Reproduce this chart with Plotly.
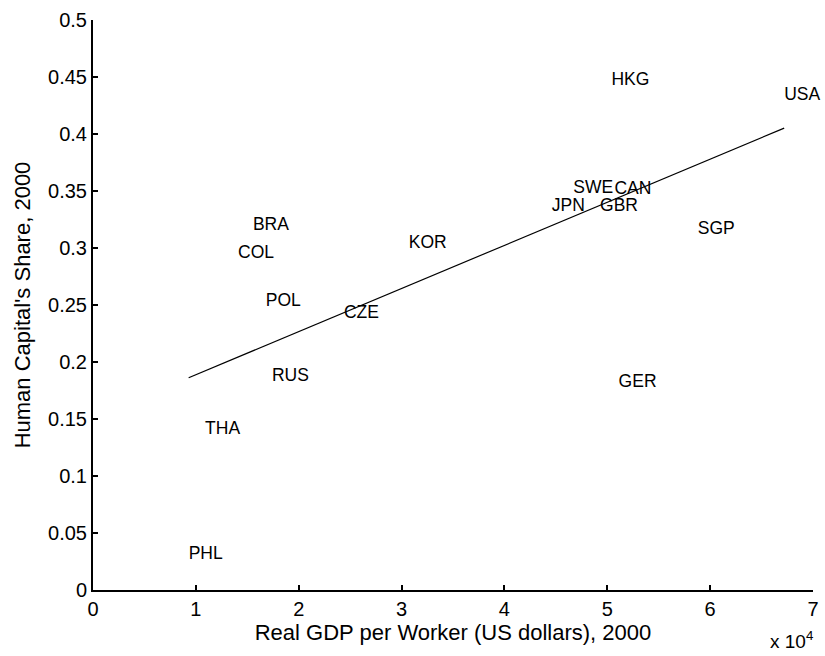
import numpy as np
import plotly.graph_objects as go

# Country codes and their values
countries = ["HKG", "USA", "SWE", "CAN", "JPN", "GBR", "SGP", "BRA", "COL",
             "KOR", "POL", "CZE", "RUS", "THA", "PHL", "GER"]
gdp_per_worker = [50400, 67200, 46700, 50700, 44600, 49300, 58800, 15550, 14100,
                  30700, 16800, 24400, 17400, 10900, 9300, 51100]
hc_share = [0.447, 0.434, 0.3525, 0.351, 0.336, 0.336, 0.316, 0.320, 0.295,
            0.304, 0.253, 0.242, 0.187, 0.1405, 0.031, 0.1815]

x_tick_vals = [0, 10000, 20000, 30000, 40000, 50000, 60000, 70000]
x_tick_text = ["0", "1", "2", "3", "4", "5", "6", "7"]
y_tick_vals = [0, 0.05, 0.1, 0.15, 0.2, 0.25, 0.3, 0.35, 0.4, 0.45, 0.5]
y_tick_text = ["0", "0.05", "0.1", "0.15", "0.2", "0.25", "0.3", "0.35", "0.4", "0.45", "0.5"]

FONT = "Liberation Sans, Arial, Helvetica, sans-serif"

# Least-squares fit across the observed range
x_arr = np.array(gdp_per_worker, dtype=float)
y_arr = np.array(hc_share, dtype=float)
slope, intercept = np.polyfit(x_arr, y_arr, 1)
fit_x = np.array([x_arr.min(), x_arr.max()])
fit_y = intercept + slope * fit_x

fig = go.Figure()
fig.add_trace(go.Scatter(
    x=gdp_per_worker, y=hc_share, mode="text", text=countries,
    textposition="middle right", cliponaxis=False,
    textfont=dict(family=FONT, size=17.5, color="black"),
    showlegend=False, hoverinfo="skip",
))
fig.add_trace(go.Scatter(
    x=fit_x, y=fit_y, mode="lines",
    line=dict(color="black", width=1.2),
    showlegend=False, hoverinfo="skip",
))

axis_common = dict(
    showline=True, linecolor="black", linewidth=2,
    ticks="inside", ticklen=5, tickwidth=2, tickcolor="black",
    showgrid=False, zeroline=False, automargin=False,
    tickfont=dict(family=FONT, size=20, color="black"),
    title_font=dict(family=FONT, size=22, color="black"),
)

fig.update_xaxes(range=[0, 70000], tickvals=x_tick_vals, ticktext=x_tick_text,
                 title_text="Real GDP per Worker (US dollars), 2000",
                 title_standoff=4, **axis_common)
fig.update_yaxes(range=[0, 0.5], tickvals=y_tick_vals, ticktext=y_tick_text,
                 title_text="Human Capital's Share, 2000",
                 title_standoff=11, **axis_common)

# Exponent note for the x axis
fig.add_annotation(
    x=1.0, y=0, xref="paper", yref="paper", xanchor="right", yanchor="top",
    yshift=-36, xshift=2, showarrow=False,
    text="x 10<sup>4</sup>",
    font=dict(family=FONT, size=19, color="black"),
)

fig.update_layout(
    width=825, height=656,
    margin=dict(l=93, r=12, t=20, b=66),
    plot_bgcolor="white", paper_bgcolor="white",
)

fig.write_html("out.html")
